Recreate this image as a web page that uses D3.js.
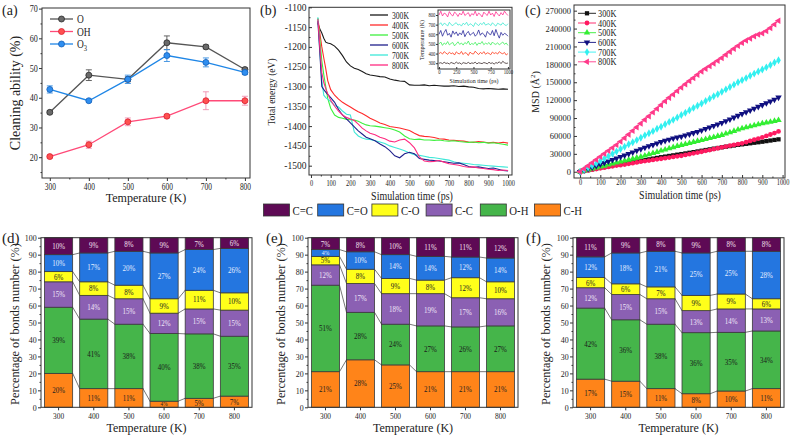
<!DOCTYPE html>
<html><head><meta charset="utf-8">
<script src="https://cdn.jsdelivr.net/npm/d3@7"></script>
<style>body{margin:0;background:#fff}svg{display:block}text{font-family:"Liberation Serif","Times New Roman",serif}</style>
</head><body><svg id="c" width="793" height="438"></svg>
<script>
// ---------- Panel (a) data ----------
const temps = [300,400,500,600,700,800];
const cleanO   = [35.1,47.6,46.2,58.5,57.1,49.5];
const errO     = [0.5,1.8,0.8,2.3,0.6,0.5];
const cleanOH  = [20.2,24.2,31.9,33.8,39.0,39.0];
const errOH    = [0.5,1.2,1.3,0.6,3.0,1.5];
const cleanO3  = [42.8,39.0,46.2,54.2,51.9,48.5];
const errO3    = [1.2,0.4,1.4,2.0,1.5,0.7];

// ---------- Panel (b) data ----------
const timeB = [35,45,55,65,75,85,100,120,140,160,180,200,220,240,260,280,300,325,350,375,400,425,450,475,500,525,550,575,600,625,650,675,700,725,750,775,800,825,850,875,900,925,950,975,1000];
const E300 = [-1140,-1155,-1165,-1178,-1188,-1190,-1192,-1198,-1208,-1222,-1238,-1248,-1254,-1257,-1262,-1268,-1271,-1273,-1275,-1276,-1281,-1284,-1286,-1287,-1296,-1297,-1297,-1296,-1298,-1297,-1298,-1299,-1299,-1298,-1300,-1299,-1301,-1302,-1305,-1306,-1305,-1306,-1307,-1306,-1307];
const E400 = [-1128,-1165,-1200,-1228,-1255,-1285,-1308,-1322,-1332,-1340,-1346,-1352,-1358,-1364,-1368,-1374,-1380,-1386,-1392,-1396,-1401,-1403,-1405,-1408,-1411,-1418,-1424,-1426,-1427,-1429,-1432,-1433,-1435,-1436,-1437,-1438,-1440,-1441,-1439,-1440,-1442,-1441,-1443,-1441,-1443];
const E500 = [-1128,-1180,-1235,-1270,-1300,-1330,-1355,-1372,-1378,-1380,-1383,-1384,-1385,-1388,-1393,-1397,-1399,-1400,-1402,-1404,-1406,-1410,-1415,-1425,-1432,-1434,-1433,-1435,-1435,-1436,-1435,-1437,-1438,-1437,-1439,-1440,-1441,-1440,-1442,-1441,-1443,-1442,-1444,-1446,-1448];
const E600 = [-1135,-1215,-1300,-1308,-1314,-1320,-1328,-1340,-1358,-1372,-1382,-1392,-1402,-1412,-1420,-1428,-1432,-1437,-1445,-1452,-1462,-1475,-1480,-1470,-1466,-1470,-1482,-1484,-1486,-1487,-1488,-1490,-1492,-1494,-1493,-1497,-1502,-1504,-1503,-1505,-1507,-1506,-1509,-1512,-1513];
const E700 = [-1125,-1210,-1285,-1322,-1328,-1332,-1338,-1348,-1352,-1362,-1370,-1372,-1415,-1425,-1430,-1433,-1434,-1437,-1440,-1444,-1450,-1454,-1458,-1462,-1468,-1472,-1474,-1476,-1479,-1480,-1482,-1484,-1486,-1490,-1493,-1494,-1495,-1497,-1498,-1499,-1500,-1501,-1502,-1503,-1504];
const E800 = [-1130,-1200,-1265,-1290,-1305,-1318,-1335,-1350,-1362,-1372,-1378,-1382,-1386,-1395,-1405,-1412,-1418,-1422,-1428,-1432,-1438,-1440,-1435,-1433,-1442,-1455,-1478,-1488,-1490,-1489,-1487,-1491,-1495,-1497,-1499,-1502,-1504,-1503,-1506,-1507,-1509,-1510,-1512,-1511,-1512];
// inset: temperature (K) every 25 ps
const timeI = d3.range(0, 1001, 25);
const T300 = [300,305,296,310,298,302,292,308,300,295,312,298,304,290,306,301,297,309,295,303,299,311,293,305,300,296,307,302,294,310,298,304,291,306,300,315,296,320,305,298,302];
const T400 = [400,412,395,420,405,392,415,398,408,385,418,402,396,422,390,410,404,380,415,400,395,425,405,390,412,398,420,393,408,402,388,416,400,410,395,420,405,398,412,385,400];
const T500 = [500,520,485,510,495,525,490,505,515,480,500,522,495,510,488,515,500,530,490,505,495,518,485,510,500,525,492,508,498,515,488,520,502,495,512,490,505,520,495,510,485];
const T600 = [600,640,580,620,650,590,610,570,635,600,625,585,615,595,640,575,610,630,590,605,620,580,600,645,590,615,600,570,630,605,595,640,585,650,600,560,620,590,610,600,580];
const T700 = [700,720,690,715,705,685,725,700,690,710,720,695,705,685,715,700,725,690,710,700,680,720,705,690,715,700,725,695,705,710,690,720,700,685,715,705,695,720,700,690,710];
const T800 = [800,840,790,820,810,780,835,805,790,830,815,785,820,800,840,795,810,825,785,815,800,840,790,820,805,780,830,810,795,840,800,820,785,835,810,790,825,800,840,815,795];

// ---------- Panel (c) data: MSD (thousand Å²) every 20 ps ----------
const timeC = d3.range(0, 1000, 20);
const M300 = [0,1.3,2.7,4,5.4,6.7,8,9.3,10.7,12,13.3,14.3,15.3,16.3,17.3,18.4,19.6,20.8,22,23.2,24.4,25.4,26.5,27.5,28.6,29.6,30.7,31.8,32.9,34,35.2,36.4,37.5,38.7,39.8,41,42,43,44,45,45.9,46.8,47.7,48.6,49.4,50.3,51.3,52.3,53.3,54.3];
const M400 = [0,1.1,2.2,3.4,4.5,5.7,6.8,8,9.2,10.4,11,12.1,13.3,14.4,15.6,16.8,17.8,18.8,19.8,20.8,21.8,22.8,23.8,24.8,25.8,26.8,28.1,29.4,30.8,32.1,33.5,35,36.4,37.9,39.4,40.9,42.2,43.6,44.9,46.2,47.6,49.6,51.6,53.6,55.6,57.6,60,62.4,64.8,67.5];
const M500 = [0,1.7,3.4,5,6.7,8.4,10,11.7,13.4,15.1,16.8,18.4,20,21.7,23.3,25,27,29,31,33,35.2,37,39,41,43,44.7,46.3,48,49.7,51.4,53,54.7,56.4,58,59.8,61.5,63.7,66,68.2,70.5,72.7,74.4,76,77.7,79.3,81,82.3,83.6,85,86.3];
const M600 = [0,2.5,5,7.5,10,12.5,15,17.5,20,22.5,25,27.5,30,32.5,35.5,38,40.5,43,45,47.5,50,52,54,56,57.5,59,61,63,65,67,69.5,72,74.5,77,79.5,82,85,88,91,94,97,100,103,106,109,112,115,118,121,124.5];
const M700 = [0,3.5,7,10.5,14,18,22,26,30,34,38,42,46,49.5,53,57,61,64.5,68,72,75.5,79.5,83.5,87,91,95,99,103,107,110.5,114.5,118.5,122.5,126.5,130,134,138,142,146,150,153.5,157,161,164.5,168,171.5,175,179,183,187];
const M800 = [0,5,10,15,20,25,30,35,40,45,50.5,56.5,62.5,68.5,74.5,81,87,93,99.5,105.5,112,118,124,129.5,135.5,141,146.5,152,157,162.5,168,172.5,177,181.5,186,190.5,196,201,206,211,216,220,223.5,227,230,232,236,241,247,253];

// ---------- Panels (d)(e)(f): bond percentages, stack order bottom->top ----------
const bondStack = ["C-H","O-H","C-C","C-O","C=O","C=C"];
const bondLegend = ["C=C","C=O","C-O","C-C","O-H","C-H"];
const bondsD = [[20,39,15,6,10,10],[11,41,14,8,17,9],[11,38,15,8,20,8],[3.6,39.9,12,8.5,27,9],[5.3,38,14.7,11,24,7],[6.6,35.3,15.4,10.2,26.2,6.3]];
const bondsE = [[21,51,12,5,4,7],[28,28,17,8.4,10.3,8.3],[25,24,18,9,14,10],[21,27,19,8,14,11],[21,26.4,17.2,11.8,12.2,11.4],[21,27,16,10,14,12]];
const bondsF = [[16.6,41.9,12,6,12.2,11.3],[15.4,36.2,14.9,6.3,18.2,9.0],[11,38,15,7,21,8],[8,36,13,9,25,9],[9.6,34.6,13.8,8.8,25.2,8.0],[11,34,13,6,28,8]];

// ---------- styles ----------
const FONT = '"Liberation Serif","Times New Roman",serif';
const bondColor = {"C=C":"#5e0a55","C=O":"#2476e0","C-O":"#ffff1a","C-C":"#8b60b3","O-H":"#45b54a","C-H":"#ff8419"};
const bondText  = {"C=C":"#f4e0f0","C=O":"#e4eeff","C-O":"#222","C-C":"#f0e6f8","O-H":"#1a1a1a","C-H":"#222"};
const svg = d3.select("#c");

function txt(g, x, y, s, fs, anchor, rot, sx) {
  const t = g.append("text").attr("font-family", FONT).attr("font-size", fs)
    .attr("fill", "#222").attr("text-anchor", anchor || "start").text(s);
  if (rot) t.attr("x", x).attr("y", y).attr("transform", `rotate(${rot},${x},${y})`);
  else t.attr("x", 0).attr("y", 0).attr("transform", `translate(${x},${y}) scale(${sx || 1},1)`);
  return t;
}
function frame(g, x, y) {
  const [x0, x1] = x.range(), [y0, y1] = y.range();
  g.append("rect").attr("x", Math.min(x0, x1)).attr("y", Math.min(y0, y1))
    .attr("width", Math.abs(x1 - x0)).attr("height", Math.abs(y1 - y0))
    .attr("fill", "none").attr("stroke", "#333").attr("stroke-width", 1);
}
function styleAxis(a, fs, sx) {
  a.select(".domain").remove();
  a.selectAll("line").attr("stroke", "#333");
  a.selectAll("text").attr("font-family", FONT).attr("font-size", fs).attr("fill", "#222")
    .attr("transform", `scale(${sx || 1},1)`);
}
function xAxis(g, x, yPix, major, minor, fs, o) {
  o = o || {};
  const size = o.size === undefined ? 4 : o.size;
  const a = g.append("g").attr("transform", `translate(0,${yPix})`)
    .call(d3.axisBottom(x).tickValues(major).tickSize(size).tickPadding(o.pad === undefined ? 2 : o.pad).tickFormat(o.fmt || (d => d)));
  styleAxis(a, fs, o.sx);
  if (minor) {
    const m = g.append("g").attr("transform", `translate(0,${yPix})`)
      .call(d3.axisBottom(x).tickValues(minor).tickSize(size / 2).tickFormat(""));
    styleAxis(m, fs);
  }
}
function yAxis(g, y, xPix, major, minor, fs, o) {
  o = o || {};
  const size = o.size === undefined ? 4 : o.size;
  const a = g.append("g").attr("transform", `translate(${xPix},0)`)
    .call(d3.axisLeft(y).tickValues(major).tickSize(size).tickPadding(o.pad === undefined ? 2 : o.pad).tickFormat(o.fmt || (d => d)));
  styleAxis(a, fs, o.sx);
  if (minor) {
    const m = g.append("g").attr("transform", `translate(${xPix},0)`)
      .call(d3.axisLeft(y).tickValues(minor).tickSize(size / 2).tickFormat(""));
    styleAxis(m, fs);
  }
}

// ================= Panel (a) =================
{
  const g = svg.append("g");
  const x = d3.scaleLinear([280, 813], [42, 250]);
  const y = d3.scaleLinear([13, 70.2], [178, 8]);
  frame(g, x, y);
  xAxis(g, x, 178, temps, [350,450,550,650,750], 9.5, {sx: 0.78, size: 3});
  yAxis(g, y, 42, [20,30,40,50,60,70], [15,25,35,45,55,65], 9.5, {sx: 0.85, size: 3});
  txt(g, 146, 202, "Temperature (K)", 13, "middle", 0, 0.93);
  txt(g, 20, 93, "Cleaning ability (%)", 14, "middle", -90);
  txt(g, 2, 15, "(a)", 14);
  const series = [
    {v: cleanO, e: errO, line: "#555", fill: "#6a6a6a", stroke: "#2a2a2a", err: "#555"},
    {v: cleanOH, e: errOH, line: "#ff4a78", fill: "#ff5050", stroke: "#d82030", err: "#f090b0"},
    {v: cleanO3, e: errO3, line: "#1f86e6", fill: "#2f8ef0", stroke: "#1460b8", err: "#3a8ee0"}
  ];
  const ln = d3.line().x((d, i) => x(temps[i])).y(d => y(d));
  series.forEach(s => {
    g.append("path").attr("d", ln(s.v)).attr("fill", "none").attr("stroke", s.line).attr("stroke-width", 1.3);
    s.v.forEach((v, i) => {
      const cx = x(temps[i]);
      g.append("line").attr("x1", cx).attr("x2", cx).attr("y1", y(v - s.e[i])).attr("y2", y(v + s.e[i])).attr("stroke", s.err).attr("stroke-width", 0.9);
      [v - s.e[i], v + s.e[i]].forEach(b => g.append("line").attr("x1", cx - 3).attr("x2", cx + 3).attr("y1", y(b)).attr("y2", y(b)).attr("stroke", s.err).attr("stroke-width", 0.9));
    });
    g.selectAll(null).data(s.v).join("circle").attr("cx", (d, i) => x(temps[i])).attr("cy", d => y(d)).attr("r", 3)
      .attr("fill", s.fill).attr("stroke", s.stroke).attr("stroke-width", 0.8);
  });
  const labs = ["O", "OH", "O"];
  series.forEach((s, i) => {
    const yy = 19 + i * 12.5;
    g.append("line").attr("x1", 50).attr("x2", 73).attr("y1", yy).attr("y2", yy).attr("stroke", s.line).attr("stroke-width", 1.3);
    g.append("circle").attr("cx", 61.5).attr("cy", yy).attr("r", 3).attr("fill", s.fill).attr("stroke", s.stroke).attr("stroke-width", 0.8);
    const t = txt(g, 77, yy + 4, labs[i], 11.5, "start", 0, 0.82);
    if (i === 2) t.append("tspan").attr("font-size", 8).attr("dy", 3).text("3");
  });
}

// ================= Panel (b) =================
{
  const g = svg.append("g");
  const x = d3.scaleLinear([-10, 1020], [309, 512]);
  const y = d3.scaleLinear([-1523.5, -1100], [175, 7.3]);
  frame(g, x, y);
  xAxis(g, x, 175, d3.range(0, 1001, 100), d3.range(50, 1000, 100), 8.5, {sx: 0.75, size: 3});
  yAxis(g, y, 309, d3.range(-1500, -1099, 50), d3.range(-1475, -1100, 50), 9.5, {sx: 1, size: -3, pad: 2.5});
  txt(g, 412, 200, "Simulation time (ps)", 12, "middle", 0, 0.83);
  txt(g, 275, 92, "Total energy (eV)", 9.5, "middle", -90);
  txt(g, 260, 15, "(b)", 14);
  const cols = ["#1a1a1a", "#ff2a2a", "#3ef03e", "#20208c", "#3de8d8", "#ff2a80"];
  const E = [E300, E400, E500, E600, E700, E800];
  const labs = ["300K", "400K", "500K", "600K", "700K", "800K"];
  const ln = d3.line().x((d, i) => x(timeB[i])).y(d => y(d));
  [0, 1, 2, 4, 3, 5].forEach(k => g.append("path").attr("d", ln(E[k])).attr("fill", "none").attr("stroke", cols[k]).attr("stroke-width", 1.1));
  labs.forEach((l, i) => {
    const yy = 15 + i * 10;
    g.append("line").attr("x1", 370).attr("x2", 388).attr("y1", yy).attr("y2", yy).attr("stroke", cols[i]).attr("stroke-width", 1.3);
    txt(g, 392, yy + 3.5, l, 9.5, "start", 0, 0.8);
  });
  // inset
  const xi = d3.scaleLinear([-15, 1030], [438, 510]);
  const yi = d3.scaleLinear([240, 852], [69, 10]);
  g.append("rect").attr("x", 438).attr("y", 10).attr("width", 72).attr("height", 59).attr("fill", "#fff");
  g.append("clipPath").attr("id", "ci").append("rect").attr("x", 438).attr("y", 10).attr("width", 72).attr("height", 59);
  const T = [T300, T400, T500, T600, T700, T800];
  const icol = ["#3a2a2a", "#ff3a1a", "#3ef05a", "#2a2a9a", "#3de8d0", "#ff3090"];
  const li = d3.line().x((d, i) => xi(timeI[i])).y(d => yi(d));
  const ig = g.append("g").attr("clip-path", "url(#ci)");
  T.forEach((s, k) => ig.append("path").attr("d", li(s)).attr("fill", "none").attr("stroke", icol[k]).attr("stroke-width", 0.8));
  frame(g, xi, yi);
  xAxis(g, xi, 69, [0, 250, 500, 750, 1000], null, 5.5, {size: -2, pad: 1.5, sx: 0.85});
  yAxis(g, yi, 438, [300, 400, 500, 600, 700, 800], null, 5.5, {size: 2, pad: 1, sx: 0.85});
  txt(g, 474, 82.5, "Simulation time (ps)", 7, "middle", 0, 0.85);
  txt(g, 424, 40, "Temperature (K)", 6, "middle", -90);
}

// ================= Panel (c) =================
{
  const g = svg.append("g");
  const x = d3.scaleLinear([-30, 1012], [574, 785]);
  const y = d3.scaleLinear([-10500, 279500], [178, 5]);
  frame(g, x, y);
  xAxis(g, x, 178, d3.range(0, 1001, 100), d3.range(50, 1000, 100), 8.5, {sx: 0.75, size: -3, pad: 1});
  yAxis(g, y, 574, d3.range(0, 270001, 30000), d3.range(15000, 270000, 30000), 8.5, {sx: 1, size: -3, pad: 3});
  txt(g, 680, 198.5, "Simulation time (ps)", 12, "middle", 0, 0.83);
  const yl = txt(g, 539, 92, "MSD (Å", 10, "middle", -90);
  yl.append("tspan").attr("font-size", 7).attr("dy", -4).text("2");
  yl.append("tspan").attr("dy", 4).text(")");
  txt(g, 525, 15, "(c)", 14);
  const cols = ["#111", "#ff1a60", "#33ee33", "#101080", "#33f0f0", "#ff3a8a"];
  const M = [M300, M400, M500, M600, M700, M800];
  const syms = [d3.symbolSquare, d3.symbolCircle, d3.symbolTriangle, d3.symbolTriangle, d3.symbolDiamond, d3.symbolTriangle];
  const rots = [0, 0, 0, 180, 0, -90];
  const labs = ["300K", "400K", "500K", "600K", "700K", "800K"];
  const ln = d3.line().x((d, i) => x(timeC[i])).y(d => y(d * 1000));
  M.forEach((s, k) => {
    g.append("path").attr("d", ln(s)).attr("fill", "none").attr("stroke", cols[k]).attr("stroke-width", 1);
    const sym = d3.symbol().type(syms[k]).size(18);
    g.selectAll(null).data(s).join("path").attr("d", sym)
      .attr("transform", (d, i) => `translate(${x(timeC[i])},${y(d * 1000)}) rotate(${rots[k]})`)
      .attr("fill", cols[k]);
  });
  labs.forEach((l, i) => {
    const yy = 13.3 + i * 9.7;
    g.append("line").attr("x1", 578).attr("x2", 596).attr("y1", yy).attr("y2", yy).attr("stroke", cols[i]).attr("stroke-width", 0.9);
    g.append("path").attr("d", d3.symbol().type(syms[i]).size(18)).attr("transform", `translate(587,${yy}) rotate(${rots[i]})`).attr("fill", cols[i]);
    txt(g, 598, yy + 3.5, l, 9.5, "start", 0, 0.87);
  });
}

// ================= Legend for (d)(e)(f) =================
{
  const g = svg.append("g");
  bondLegend.forEach((b, i) => {
    const x0 = 263.5 + i * 54.2;
    g.append("rect").attr("x", x0).attr("y", 204).attr("width", 26).attr("height", 12).attr("fill", bondColor[b]).attr("stroke", "#333").attr("stroke-width", 0.8);
    txt(g, x0 + 29, 214.5, b, 12.5, "start", 0, 0.86);
  });
}

// ================= Panels (d)(e)(f) =================
function bondPanel(data, r0, r1, letter, lx, ylabX) {
  const g = svg.append("g");
  const x = d3.scaleBand(temps, [r0, r1]).paddingInner(0.2).paddingOuter(0.1);
  const y = d3.scaleLinear([0, 100], [407.3, 237.7]);
  const bw = x.bandwidth();
  const cum = data.map(row => { let c = 0; return row.map(v => { const s = [c, c + v]; c += v; return s; }); });
  for (let i = 0; i < temps.length - 1; i++) {
    for (let k = 0; k < bondStack.length - 1; k++) {
      g.append("line").attr("x1", x(temps[i]) + bw).attr("x2", x(temps[i + 1]))
        .attr("y1", y(cum[i][k][1])).attr("y2", y(cum[i + 1][k][1])).attr("stroke", "#555").attr("stroke-width", 0.8);
    }
  }
  data.forEach((row, i) => {
    row.forEach((v, k) => {
      const b = bondStack[k];
      const h = y(cum[i][k][0]) - y(cum[i][k][1]);
      g.append("rect").attr("x", x(temps[i])).attr("y", y(cum[i][k][1])).attr("width", bw)
        .attr("height", h).attr("fill", bondColor[b]).attr("stroke", "#3a3a3a").attr("stroke-width", 0.8);
      const fs = Math.min(8.5, h + 0.3);
      const cx = x(temps[i]) + bw / 2, cy = y((cum[i][k][0] + cum[i][k][1]) / 2) + fs * 0.34;
      g.append("text").attr("x", 0).attr("y", 0).attr("transform", `translate(${cx},${cy}) scale(0.82,1)`)
        .attr("text-anchor", "middle").attr("font-family", FONT).attr("font-size", fs).attr("fill", bondText[b])
        .text(Math.round(v) + "%");
    });
  });
  g.append("rect").attr("x", r0).attr("y", 237.7).attr("width", r1 - r0).attr("height", 407.3 - 237.7).attr("fill", "none").attr("stroke", "#333").attr("stroke-width", 1);
  xAxis(g, x, 407.3, temps, null, 9, {size: 3, sx: 0.82});
  yAxis(g, y, r0, d3.range(0, 101, 10), d3.range(5, 100, 10), 9, {size: 3, sx: 0.88});
  txt(g, (r0 + r1) / 2, 432, "Temperature (K)", 12.5, "middle", 0, 0.96);
  txt(g, ylabX, 324, "Percentage of bonds number (%)", 12.3, "middle", -90);
  txt(g, lx, 243, letter, 15);
}
bondPanel(bondsD, 41, 252, "(d)", 2, 19);
bondPanel(bondsE, 308, 518, "(e)", 266, 285);
bondPanel(bondsF, 573, 784, "(f)", 526, 550);
</script></body></html>
